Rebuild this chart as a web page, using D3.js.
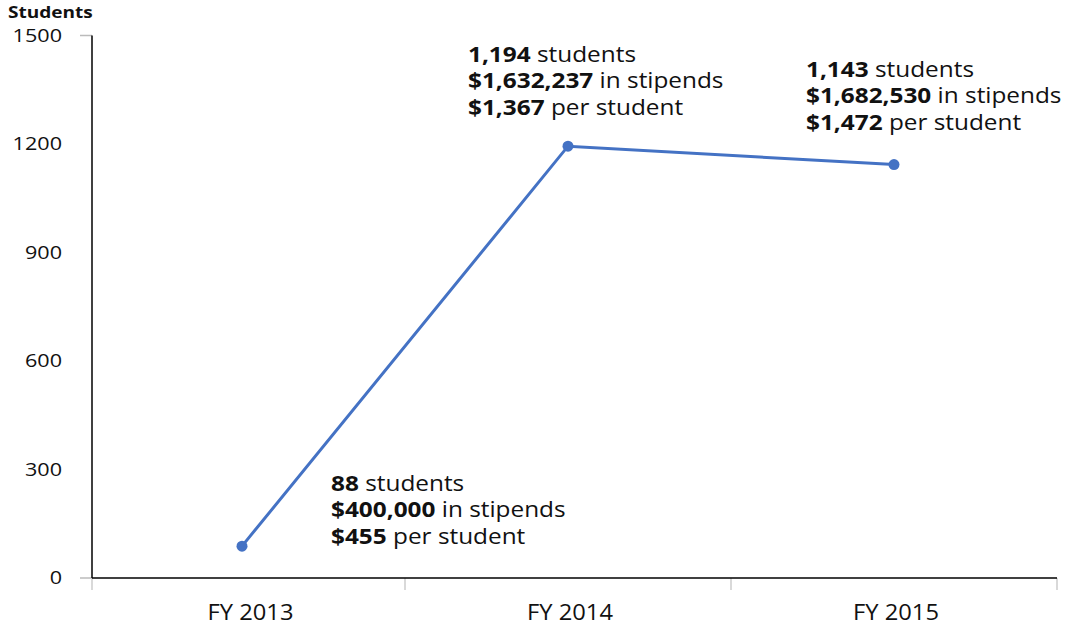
<!DOCTYPE html>
<html><head><meta charset="utf-8">
<script src="https://cdn.jsdelivr.net/npm/d3@7"></script>
<style>body{margin:0;background:#fff}text{font-family:"Open Sans",sans-serif;fill:#111}</style>
</head><body><svg id="c" width="1066" height="629"></svg>
<script>
const categories = ["FY 2013","FY 2014","FY 2015"];
const students = [88, 1194, 1143];
const stipends = ["$400,000","$1,632,237","$1,682,530"];
const perStudent = ["$455","$1,367","$1,472"];
const yTicks = [0,300,600,900,1200,1500];

const svg = d3.select("#c");
const x = d3.scaleBand().domain(categories).range([79,1057]);
const y = d3.scaleLinear().domain([0,1500]).range([578,35.5]);
const axisX = 92;

// y tick labels
svg.selectAll(".yl").data(yTicks).join("text")
  .attr("transform",d=>`translate(62,${y(d)}) scale(1.2,1)`)
  .attr("dy","0.36em")
  .attr("text-anchor","end").style("font-size","18px").text(d=>d);
// gray ticks
[0,1500].forEach(v=>svg.append("line").attr("x1",80).attr("x2",axisX).attr("y1",y(v)).attr("y2",y(v)).attr("stroke","#bbb").attr("stroke-width",1.5));
const bounds=[axisX].concat(categories.map(c=>x(c)+x.bandwidth()));
bounds.forEach(b=>svg.append("line").attr("x1",b).attr("x2",b).attr("y1",578).attr("y2",590).attr("stroke","#ccc").attr("stroke-width",1.5));
// axes
svg.append("line").attr("x1",axisX).attr("x2",axisX).attr("y1",y(1500)).attr("y2",578).attr("stroke","#000").attr("stroke-width",1.5);
svg.append("line").attr("x1",axisX).attr("x2",1057).attr("y1",578).attr("y2",578).attr("stroke","#000").attr("stroke-width",1.5);
// x labels
svg.selectAll(".xl").data(categories).join("text")
  .attr("transform",(d,i)=>`translate(${(bounds[i]+bounds[i+1])/2+2},612) scale(1.13,1)`)
  .attr("dy","0.36em")
  .attr("text-anchor","middle").style("font-size","21px").text(d=>d);
// title
svg.append("text").attr("transform","translate(8,18) scale(1.19,1)").style("font-size","16px").style("font-weight","bold").text("Students");

// line
const cx = d=>x(d)+x.bandwidth()/2;
const pts = categories.map((c,i)=>[cx(c),y(students[i])]);
svg.append("path").attr("d",d3.line()(pts)).attr("fill","none").attr("stroke","#4472C4").attr("stroke-width",3);
svg.selectAll(".pt").data(pts).join("circle").attr("cx",d=>d[0]).attr("cy",d=>d[1]).attr("r",5.5).attr("fill","#4472C4");

// annotations
const annPos = [[331,483],[468,54],[806,69]];
categories.forEach((c,i)=>{
  const lines=[[students[i].toLocaleString("en-US")," students"],[stipends[i]," in stipends"],[perStudent[i]," per student"]];
  const g=svg.append("text").style("font-size","21px")
    .attr("transform",`translate(${annPos[i][0]},${annPos[i][1]}) scale(1.16,1)`);
  lines.forEach((l,j)=>{
    const t=g.append("tspan").attr("x",0).attr("y",j*26.5).attr("dy","0.36em");
    t.append("tspan").style("font-weight","bold").text(l[0]);
    g.append("tspan").text(l[1]);
  });
});
</script></body></html>
